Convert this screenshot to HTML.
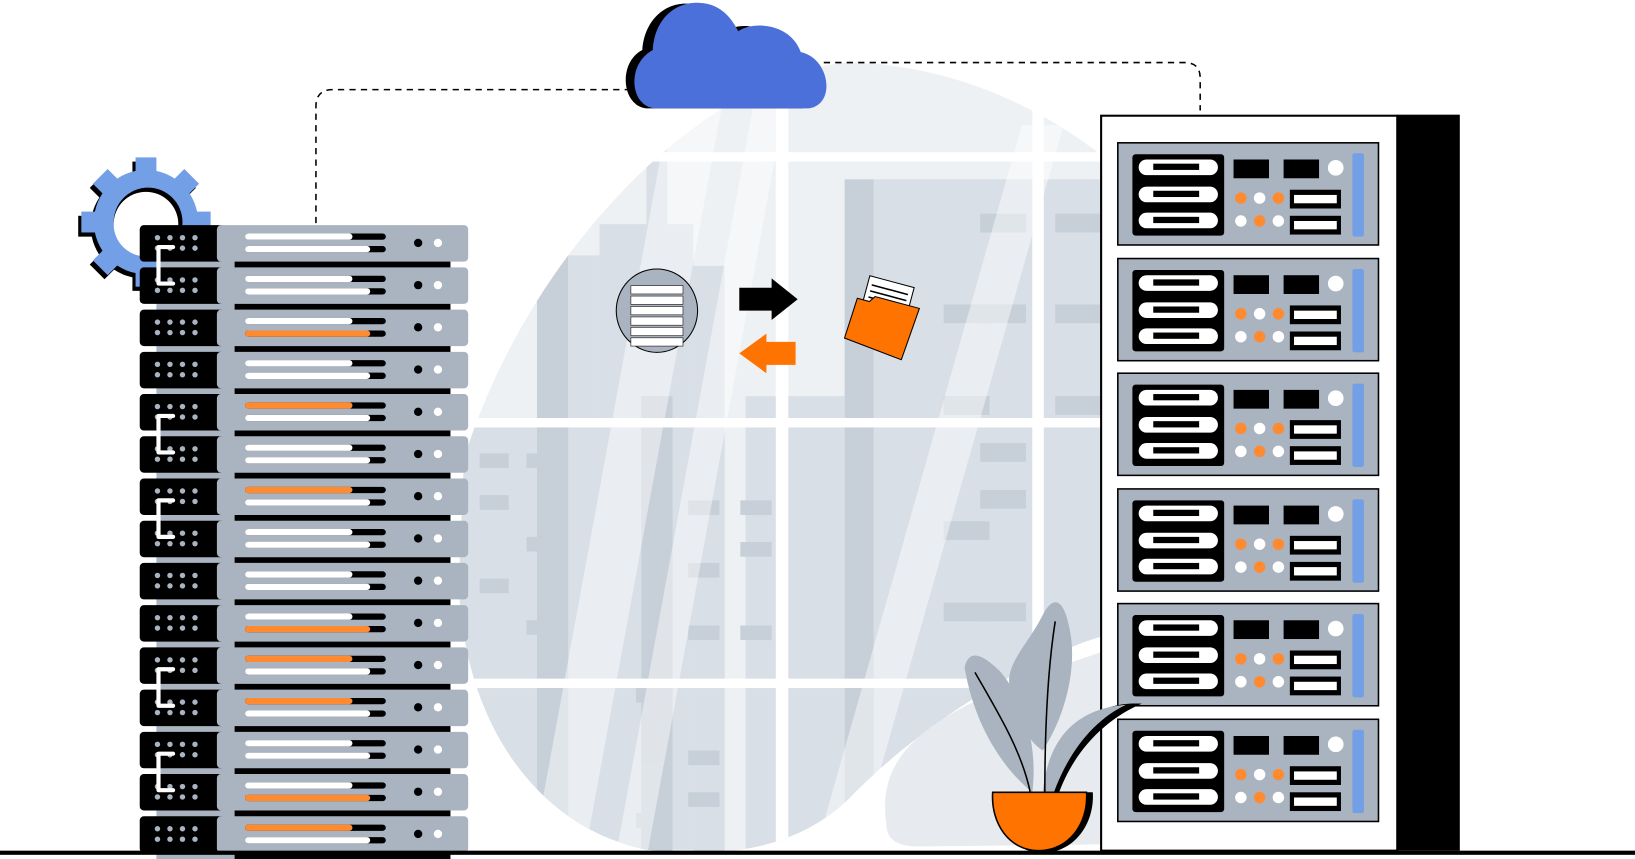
<!DOCTYPE html>
<html><head><meta charset="utf-8"><style>
html,body{margin:0;padding:0;background:#fff;width:1635px;height:859px;overflow:hidden}
svg{display:block}
</style></head><body>
<svg width="1635" height="859" viewBox="0 0 1568 824" preserveAspectRatio="none" xmlns="http://www.w3.org/2000/svg">
<defs>
<g id="lu">
  <rect x="150" y="30" width="80" height="12" fill="#aab4c0"/>
  <rect x="225" y="33" width="207" height="8" fill="#000"/>
  <rect x="134" y="0" width="82" height="35" rx="4" fill="#000"/>
  <rect x="208" y="0" width="241" height="35" rx="4" fill="#aab4c0"/>
  <g fill="#aab4c0"><circle cx="151" cy="12" r="2.6"/><circle cx="163" cy="12" r="2.6"/><circle cx="175" cy="12" r="2.6"/><circle cx="187" cy="12" r="2.6"/><circle cx="151" cy="22" r="2.6"/><circle cx="163" cy="22" r="2.6"/><circle cx="175" cy="22" r="2.6"/><circle cx="187" cy="22" r="2.6"/></g>
  <rect x="235" y="8" width="135" height="6" rx="3" fill="#000"/>
  <rect x="235" y="20" width="135" height="6" rx="3" fill="#000"/>
  <circle cx="401" cy="17" r="4" fill="#000"/><circle cx="420" cy="17" r="4" fill="#fff"/>
</g>
<g id="ru">
  <rect x="1072" y="0" width="250" height="98" fill="#aab4c0" stroke="#000" stroke-width="1.5"/>
  <rect x="1086" y="11" width="88" height="78" rx="3" fill="#000"/>
  <g fill="#fff"><rect x="1092" y="16" width="76" height="15" rx="7.5"/><rect x="1092" y="42" width="76" height="15" rx="7.5"/><rect x="1092" y="67" width="76" height="15" rx="7.5"/></g>
  <g fill="#000"><rect x="1106" y="20" width="44" height="6"/><rect x="1106" y="46" width="44" height="6"/><rect x="1106" y="71" width="44" height="6"/></g>
  <rect x="1183" y="16" width="34" height="18" fill="#000"/><rect x="1231" y="16" width="34" height="18" fill="#000"/>
  <circle cx="1281" cy="24" r="7.5" fill="#fff"/>
  <circle cx="1190" cy="53" r="5.5" fill="#ff8a30"/><circle cx="1208" cy="53" r="5.5" fill="#fff"/><circle cx="1226" cy="53" r="5.5" fill="#ff8a30"/>
  <circle cx="1190" cy="75" r="5.5" fill="#fff"/><circle cx="1208" cy="75" r="5.5" fill="#ff8a30"/><circle cx="1226" cy="75" r="5.5" fill="#fff"/>
  <rect x="1237" y="45" width="49" height="18" fill="#000"/><rect x="1241" y="50" width="41" height="8" fill="#fff"/>
  <rect x="1237" y="70" width="49" height="18" fill="#000"/><rect x="1241" y="75" width="41" height="8" fill="#fff"/>
  <rect x="1297" y="10" width="11" height="80" rx="2" fill="#729fe6"/>
</g>
<clipPath id="blob"><path d="M445 440 C510 230 690 62 820 60 C920 64 1000 105 1058 150 L1058 610 C990 630 890 690 820 760 C770 815 690 825 620 815 C520 795 445 700 440 560 Z"/></clipPath>
</defs>

<path d="M445 440 C510 230 690 62 820 60 C920 64 1000 105 1058 150 L1058 610 C990 630 890 690 820 760 C770 815 690 825 620 815 C520 795 445 700 440 560 Z" fill="#eef1f4"/>
<g clip-path="url(#blob)">
  <rect x="440" y="410" width="180" height="420" fill="#d9dfe6"/>
  <rect x="515" y="245" width="30" height="600" fill="#c7cfd8"/>
  <rect x="545" y="245" width="30" height="600" fill="#d9dfe6"/>
  <rect x="575" y="215" width="90" height="600" fill="#d9dfe6"/>
  <rect x="615" y="380" width="30" height="450" fill="#c7cfd8"/>
  <rect x="620" y="100" width="20" height="200" fill="#d9dfe6"/>
  <rect x="665" y="255" width="30" height="600" fill="#d9dfe6"/>
  <rect x="715" y="380" width="95" height="450" fill="#d9dfe6"/>
  <rect x="810" y="172" width="28" height="650" fill="#c7cfd8"/>
  <rect x="838" y="172" width="220" height="650" fill="#d9dfe6"/>
  <g fill="#c7cfd8">
    <rect x="940" y="205" width="44" height="18"/><rect x="1012" y="205" width="44" height="18"/>
    <rect x="905" y="292" width="44" height="18"/><rect x="940" y="292" width="44" height="18"/><rect x="1012" y="292" width="44" height="18"/>
    <rect x="905" y="380" width="44" height="18"/><rect x="1012" y="380" width="44" height="18"/>
    <rect x="940" y="425" width="44" height="18"/><rect x="940" y="470" width="44" height="18"/>
    <rect x="905" y="500" width="44" height="18"/><rect x="940" y="578" width="44" height="18"/><rect x="905" y="578" width="44" height="18"/>
    <rect x="460" y="435" width="28" height="14"/><rect x="505" y="435" width="28" height="14"/>
    <rect x="460" y="475" width="28" height="14"/><rect x="505" y="515" width="28" height="14"/>
    <rect x="460" y="555" width="28" height="14"/><rect x="505" y="595" width="28" height="14"/>
    <rect x="660" y="480" width="30" height="14"/><rect x="710" y="480" width="30" height="14"/>
    <rect x="660" y="540" width="30" height="14"/><rect x="710" y="520" width="30" height="14"/>
    <rect x="660" y="600" width="30" height="14"/><rect x="710" y="600" width="30" height="14"/>
    <rect x="610" y="660" width="30" height="14"/><rect x="660" y="720" width="30" height="14"/>
    <rect x="610" y="780" width="30" height="14"/><rect x="660" y="760" width="30" height="14"/>
  </g>
  <g fill="#fff" opacity="0.45">
    <polygon points="650,60 700,60 560,824 510,824"/>
    <polygon points="730,60 760,60 620,824 590,824"/>
    <polygon points="980,120 1020,120 820,824 780,824"/>
  </g>
  <g fill="#fff">
    <rect x="440" y="146" width="620" height="9"/>
    <rect x="440" y="401" width="620" height="9"/>
    <rect x="440" y="651" width="620" height="9"/>
    <rect x="744" y="60" width="12" height="770"/>
    <rect x="990" y="60" width="11" height="770"/>
  </g>
</g>
<path d="M850 790 C840 720 890 680 1058 625 L1058 810 L880 812 C860 812 850 805 850 790Z" fill="#e7ebef"/>

<path d="M303 214 L303 102 Q303 86 319 86 L606 86" fill="none" stroke="#000" stroke-width="1.5" stroke-dasharray="6 5"/>
<path d="M790 60 L1136 60 Q1151 60 1151 75 L1151 106" fill="none" stroke="#000" stroke-width="1.5" stroke-dasharray="6 5"/>

<path d="M622 104 C596 104 592 60 616 48 C618 18 640 0 664 4 C680 4 695 20 697 30 C705 22 740 20 752 52 C775 56 785 92 770 104 Z" fill="#000"/>
<path d="M630 104 C604 104 600 62 626 48 C628 16 650 0 674 3 C692 5 702 18 708 30 C722 20 758 22 768 50 C796 56 802 100 776 104 Z" fill="#4b70d9"/>

<g transform="translate(140,213)">
  <g transform="translate(-3,4)" fill="#000">
    <circle r="50"/>
    <rect x="-10" y="-62" width="20" height="20"/><rect x="-10" y="-62" width="20" height="20" transform="rotate(45)"/><rect x="-10" y="-62" width="20" height="20" transform="rotate(90)"/><rect x="-10" y="-62" width="20" height="20" transform="rotate(135)"/><rect x="-10" y="-62" width="20" height="20" transform="rotate(180)"/><rect x="-10" y="-62" width="20" height="20" transform="rotate(225)"/><rect x="-10" y="-62" width="20" height="20" transform="rotate(270)"/><rect x="-10" y="-62" width="20" height="20" transform="rotate(315)"/>
  </g>
  <g fill="#729fe6">
    <circle r="50"/>
    <rect x="-10" y="-62" width="20" height="20"/><rect x="-10" y="-62" width="20" height="20" transform="rotate(45)"/><rect x="-10" y="-62" width="20" height="20" transform="rotate(90)"/><rect x="-10" y="-62" width="20" height="20" transform="rotate(135)"/><rect x="-10" y="-62" width="20" height="20" transform="rotate(180)"/><rect x="-10" y="-62" width="20" height="20" transform="rotate(225)"/><rect x="-10" y="-62" width="20" height="20" transform="rotate(270)"/><rect x="-10" y="-62" width="20" height="20" transform="rotate(315)"/>
  </g>
  <circle cx="2" cy="0" r="33" fill="#000"/>
  <circle cx="0" cy="2" r="31" fill="#fff"/>
</g>

<g>
<use href="#lu" y="216"/><use href="#lu" y="256.5"/><use href="#lu" y="297"/><use href="#lu" y="337.5"/><use href="#lu" y="378"/>
<use href="#lu" y="418.5"/><use href="#lu" y="459"/><use href="#lu" y="499.5"/><use href="#lu" y="540"/><use href="#lu" y="580.5"/>
<use href="#lu" y="621"/><use href="#lu" y="661.5"/><use href="#lu" y="702"/><use href="#lu" y="742.5"/><use href="#lu" y="783"/>
</g>
<g>
<rect x="235" y="224" width="103" height="6" rx="3" fill="#fff"/><rect x="235" y="236" width="120" height="6" rx="3" fill="#fff"/>
<rect x="235" y="264.5" width="103" height="6" rx="3" fill="#fff"/><rect x="235" y="276.5" width="120" height="6" rx="3" fill="#fff"/>
<rect x="235" y="305" width="103" height="6" rx="3" fill="#fff"/><rect x="235" y="317" width="120" height="6" rx="3" fill="#ff8a30"/>
<rect x="235" y="345.5" width="103" height="6" rx="3" fill="#fff"/><rect x="235" y="357.5" width="120" height="6" rx="3" fill="#fff"/>
<rect x="235" y="386" width="103" height="6" rx="3" fill="#ff8a30"/><rect x="235" y="398" width="120" height="6" rx="3" fill="#fff"/>
<rect x="235" y="426.5" width="103" height="6" rx="3" fill="#fff"/><rect x="235" y="438.5" width="120" height="6" rx="3" fill="#fff"/>
<rect x="235" y="467" width="103" height="6" rx="3" fill="#ff8a30"/><rect x="235" y="479" width="120" height="6" rx="3" fill="#fff"/>
<rect x="235" y="507.5" width="103" height="6" rx="3" fill="#fff"/><rect x="235" y="519.5" width="120" height="6" rx="3" fill="#fff"/>
<rect x="235" y="548" width="103" height="6" rx="3" fill="#fff"/><rect x="235" y="560" width="120" height="6" rx="3" fill="#fff"/>
<rect x="235" y="588.5" width="103" height="6" rx="3" fill="#fff"/><rect x="235" y="600.5" width="120" height="6" rx="3" fill="#ff8a30"/>
<rect x="235" y="629" width="103" height="6" rx="3" fill="#ff8a30"/><rect x="235" y="641" width="120" height="6" rx="3" fill="#fff"/>
<rect x="235" y="669.5" width="103" height="6" rx="3" fill="#ff8a30"/><rect x="235" y="681.5" width="120" height="6" rx="3" fill="#fff"/>
<rect x="235" y="710" width="103" height="6" rx="3" fill="#fff"/><rect x="235" y="722" width="120" height="6" rx="3" fill="#fff"/>
<rect x="235" y="750.5" width="103" height="6" rx="3" fill="#fff"/><rect x="235" y="762.5" width="120" height="6" rx="3" fill="#ff8a30"/>
<rect x="235" y="791" width="103" height="6" rx="3" fill="#ff8a30"/><rect x="235" y="803" width="120" height="6" rx="3" fill="#fff"/>
</g>
<g fill="none" stroke="#fff" stroke-width="4" stroke-linecap="round" stroke-linejoin="round">
<path d="M166 237 L152 237 L152 272 L166 272"/>
<path d="M166 399 L152 399 L152 434 L166 434"/>
<path d="M166 480 L152 480 L152 515 L166 515"/>
<path d="M166 642 L152 642 L152 677 L166 677"/>
<path d="M166 723 L152 723 L152 758 L166 758"/>
</g>

<ellipse cx="630" cy="298" rx="39" ry="40" fill="#aab4c0" stroke="#000" stroke-width="1"/>
<g fill="#fff" stroke="#333" stroke-width="0.7">
<rect x="605" y="274" width="50" height="8"/><rect x="605" y="284" width="50" height="8"/><rect x="605" y="294" width="50" height="8"/>
<rect x="605" y="304" width="50" height="8"/><rect x="605" y="314" width="50" height="8"/><rect x="605" y="324" width="50" height="8"/>
</g>
<polygon points="709,276 740,276 740,267 765,287 740,307 740,298 709,298" fill="#000"/>
<polygon points="763,328 735,328 735,320 709,339 735,358 735,350 763,350" fill="#ff7300"/>
<g transform="translate(850,306) rotate(15)">
  <rect x="-26" y="-36" width="44" height="42" fill="#fff" stroke="#000"/>
  <g stroke="#000" stroke-width="1.5"><line x1="-22" y1="-28" x2="14" y2="-28"/><line x1="-22" y1="-22" x2="14" y2="-22"/><line x1="-22" y1="-16" x2="14" y2="-16"/><line x1="-22" y1="-10" x2="14" y2="-10"/></g>
  <path d="M-32 -12 L-20 -12 L-16 -18 L28 -18 L24 34 L-34 28 Z" fill="#ff7300" stroke="#000" stroke-width="1"/>
</g>

<rect x="1340" y="110" width="60" height="706" fill="#000"/>
<rect x="1056" y="111" width="284" height="705" fill="#fff" stroke="#000" stroke-width="2"/>
<use href="#ru" y="137"/><use href="#ru" y="248"/><use href="#ru" y="358"/><use href="#ru" y="469"/><use href="#ru" y="579"/><use href="#ru" y="690"/>

<g>
<path d="M970 665 C960 640 985 620 1000 590 C1010 570 1020 575 1025 600 C1035 640 1020 690 1000 720 C985 710 975 690 970 665Z" fill="#aab4c0"/>
<path d="M925 640 C930 620 945 630 960 645 C985 675 995 720 990 760 C965 740 935 700 925 640Z" fill="#aab4c0"/>
<path d="M1005 760 C1015 700 1050 672 1095 675 C1060 690 1030 720 1015 762Z" fill="#000"/>
<path d="M1000 760 C1005 710 1030 680 1080 676 C1050 690 1025 720 1010 762Z" fill="#aab4c0"/>
<g stroke="#000" stroke-width="1.5" fill="none"><path d="M988 760 C980 720 955 680 935 645"/><path d="M1002 762 C1002 700 1005 640 1012 596"/></g>
<path d="M958 760 L1048 760 C1050 790 1030 818 1000 818 C970 818 952 790 958 760Z" fill="#000"/>
<path d="M952 760 L1042 760 C1044 790 1025 816 996 816 C968 816 950 790 952 760Z" fill="#ff7300" stroke="#000" stroke-width="1.5"/>
</g>

<rect x="0" y="816" width="1568" height="4" fill="#000"/>
</svg>
</body></html>
